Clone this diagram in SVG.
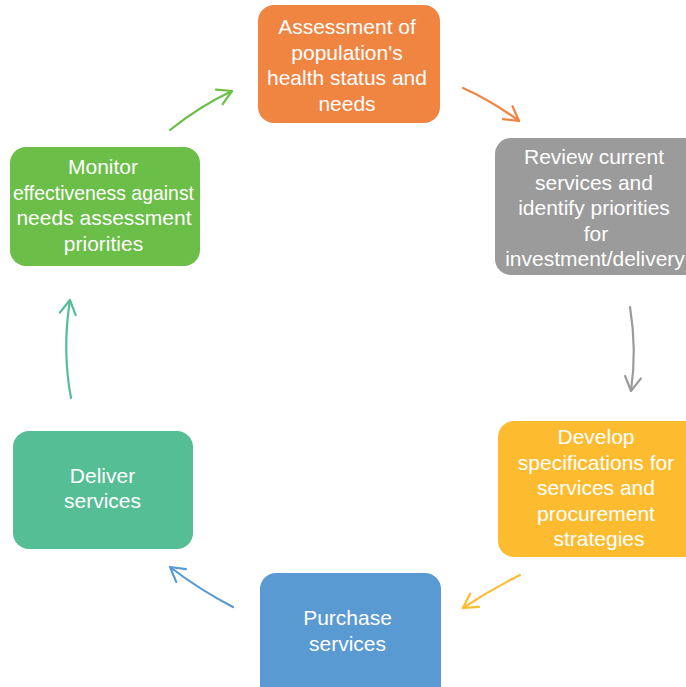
<svg xmlns="http://www.w3.org/2000/svg" width="686" height="687" viewBox="0 0 686 687">
  <style>
    .box text { font-family: "Liberation Sans", Arial, sans-serif; font-size: 21px; fill: #ffffff; text-anchor: middle; }
    .conn path { fill: none; stroke-width: 2.2; stroke-linecap: round; }
  </style>
  <defs>
    <marker id="head" viewBox="-16 -10 18 20" markerWidth="18" markerHeight="20" refX="0" refY="0" orient="auto" markerUnits="userSpaceOnUse">
      <path d="M-14,-8 L0,0 L-14,8" fill="none" stroke="context-stroke" stroke-width="2.2" stroke-linecap="round" stroke-linejoin="round"/>
    </marker>
  </defs>

  <rect width="686" height="687" fill="#ffffff"/>

  <g class="conn" id="connectors">
    <path d="M170,130 Q200,106 232,91" stroke="#6BBE47" marker-end="url(#head)"/>
    <path d="M463,88 Q492,101 519,121" stroke="#F08441" marker-end="url(#head)"/>
    <path d="M630,307 Q637,350 631,391" stroke="#9B9B9B" marker-end="url(#head)"/>
    <path d="M520,575 Q490,590 463,608" stroke="#FDBC2F" marker-end="url(#head)"/>
    <path d="M233,607 Q200,590 170,567" stroke="#5A9AD2" marker-end="url(#head)"/>
    <path d="M71,398 Q62,350 70,300" stroke="#56BE95" marker-end="url(#head)"/>
  </g>

  <g class="box" id="assess">
    <rect x="258" y="5" width="182" height="118" rx="16" fill="#F08441"/>
    <text x="347" y="34">Assessment of</text>
    <text x="347" y="59.5">population's</text>
    <text x="347" y="85">health status and</text>
    <text x="347" y="110.5">needs</text>
  </g>

  <g class="box" id="review">
    <rect x="495" y="138" width="205" height="137" rx="16" fill="#9B9B9B"/>
    <text x="594" y="164">Review current</text>
    <text x="594" y="189.5">services and</text>
    <text x="594" y="215">identify priorities</text>
    <text x="596" y="240.5">for</text>
    <text x="595" y="266">investment/delivery</text>
  </g>

  <g class="box" id="develop">
    <rect x="498" y="421" width="205" height="136" rx="16" fill="#FDBC2F"/>
    <text x="596" y="444">Develop</text>
    <text x="596" y="469.5">specifications for</text>
    <text x="596" y="495">services and</text>
    <text x="596" y="520.5">procurement</text>
    <text x="599" y="546">strategies</text>
  </g>

  <g class="box" id="purchase">
    <rect x="260" y="573" width="181" height="130" rx="16" fill="#5A9AD2"/>
    <text x="347.5" y="625">Purchase</text>
    <text x="347.5" y="650.5">services</text>
  </g>

  <g class="box" id="deliver">
    <rect x="13" y="431" width="180" height="118" rx="16" fill="#56BE95"/>
    <text x="102.5" y="482.5">Deliver</text>
    <text x="102.5" y="508">services</text>
  </g>

  <g class="box" id="monitor">
    <rect x="10" y="147" width="190" height="119" rx="16" fill="#6BBE47"/>
    <text x="103" y="174">Monitor</text>
    <text x="103.5" y="199.5" textLength="181" lengthAdjust="spacingAndGlyphs">effectiveness against</text>
    <text x="104" y="225">needs assessment</text>
    <text x="103.5" y="250.5">priorities</text>
  </g>
</svg>
